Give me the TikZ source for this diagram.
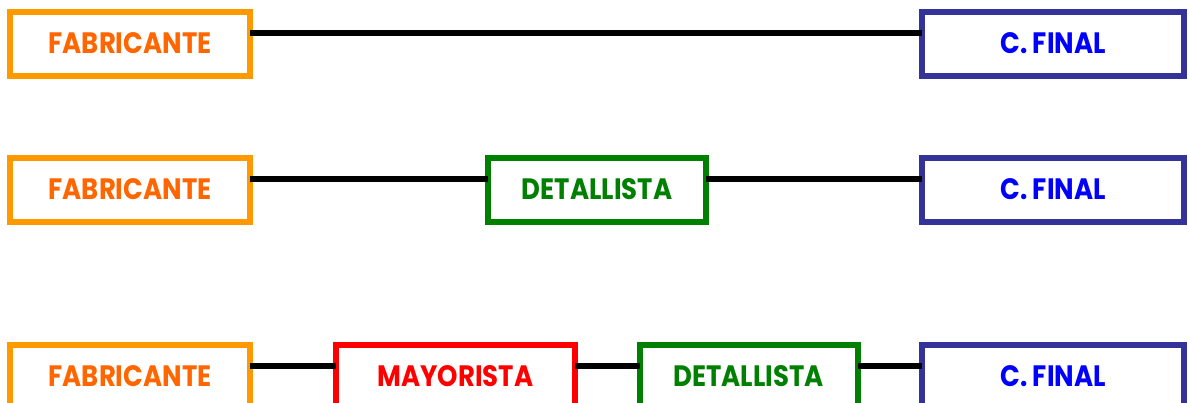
\documentclass[tikz,border=0pt]{standalone}
\usepackage{fontspec}
\setmainfont{Poppins}[BoldFont={* Bold}, BoldFeatures={FakeStretch=0.88}]
\definecolor{fabborder}{HTML}{FF9900}
\definecolor{fabtext}{HTML}{FF6600}
\definecolor{cfborder}{HTML}{333399}
\definecolor{cftext}{HTML}{0000FF}
\definecolor{detcol}{HTML}{008000}
\definecolor{maycol}{HTML}{FF0000}
\tikzset{
  box/.style={draw, line width=6pt, fill=white, outer sep=0pt, inner sep=0pt,
    minimum height=64pt, font=\fontsize{29.5}{32}\selectfont\bfseries},
  fab/.style={box, draw=fabborder, text=fabtext, minimum width=240pt},
  cf/.style={box, draw=cfborder, text=cftext, minimum width=262pt},
  det/.style={box, draw=detcol, text=detcol, minimum width=218pt},
  may/.style={box, draw=maycol, text=maycol, minimum width=239pt},
  lbl/.style={yshift=2.5pt},
  link/.style={line width=6.5pt, black}
}
\newcommand{\boxlabel}[1]{\raisebox{2.5pt}{#1}}
\begin{document}
\begin{tikzpicture}[x=1pt,y=1pt]
\useasboundingbox (0,0) rectangle (1189,403);
% channel 1: direct
\node[fab] (fa) at (130,359) {\boxlabel{FABRICANTE}};
\node[cf]  (ca) at (1053,359) {\boxlabel{C. FINAL}};
% channel 2: one intermediary
\node[fab] (fb) at (130,213) {\boxlabel{FABRICANTE}};
\node[det] (db) at (597,213) {\boxlabel{DETALLISTA}};
\node[cf]  (cb) at (1053,213) {\boxlabel{C. FINAL}};
% channel 3: two intermediaries
\node[fab] (fc) at (130,26) {\boxlabel{FABRICANTE}};
\node[may] (mc) at (455.5,26) {\boxlabel{MAYORISTA}};
\node[det] (dc) at (748.5,26) {\boxlabel{DETALLISTA}};
\node[cf]  (cc) at (1053,26) {\boxlabel{C. FINAL}};
% connectors, 21pt below the top edge of each box
\draw[link] ([yshift=-21pt]fa.north east) -- ([yshift=-21pt]ca.north west);
\draw[link] ([yshift=-21pt]fb.north east) -- ([yshift=-21pt]db.north west);
\draw[link] ([yshift=-21pt]db.north east) -- ([yshift=-21pt]cb.north west);
\draw[link] ([yshift=-21pt]fc.north east) -- ([yshift=-21pt]mc.north west);
\draw[link] ([yshift=-21pt]mc.north east) -- ([yshift=-21pt]dc.north west);
\draw[link] ([yshift=-21pt]dc.north east) -- ([yshift=-21pt]cc.north west);
\end{tikzpicture}
\end{document}
